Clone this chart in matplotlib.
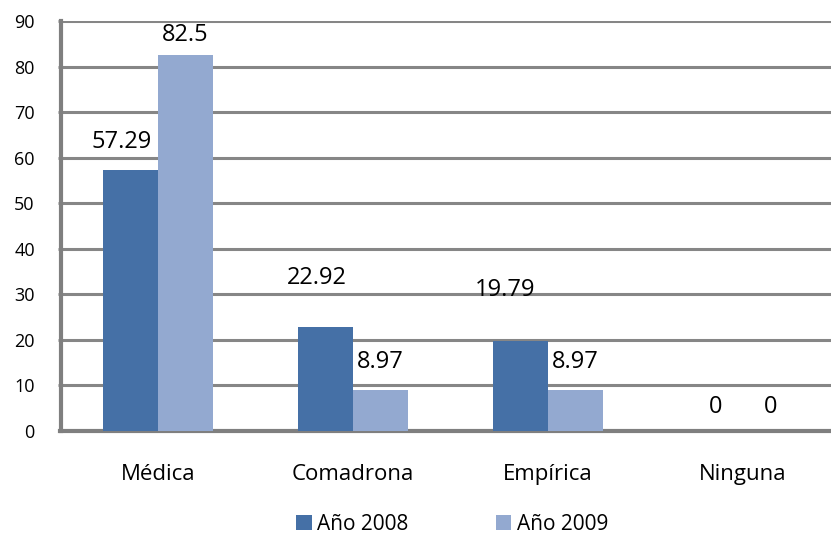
import matplotlib
matplotlib.use("Agg")
import matplotlib.pyplot as plt
import numpy as np

categories = ["Médica", "Comadrona", "Empírica", "Ninguna"]
series_names = ["Año 2008", "Año 2009"]
values_2008 = [57.29, 22.92, 19.79, 0]
values_2009 = [82.5, 8.97, 8.97, 0]
value_labels_2008 = ["57.29", "22.92", "19.79", "0"]
value_labels_2009 = ["82.5", "8.97", "8.97", "0"]
yticks = [0, 10, 20, 30, 40, 50, 60, 70, 80, 90]

colors = ["#4570A6", "#93A9D0"]
# label offsets in pixels (dx, dy) from the bar top centre
offsets_2008 = [(-9, 28), (-9, 49), (-15, 51), (0, 24)]
offsets_2009 = [(0, 20), (0, 28), (0, 28), (0, 24)]

plt.rcParams['font.family'] = ['Open Sans', 'DejaVu Sans']

fig = plt.figure(figsize=(8.31, 5.37), dpi=100)
W, H = 831, 537
left, right, top, bottom = 60.5, 840.5, 21, 431
ax = fig.add_axes([left / W, 1 - bottom / H, (right - left) / W, (bottom - top) / H])

x = np.arange(len(categories))
bw = 0.282
b1 = ax.bar(x - bw / 2, values_2008, bw, color=colors[0], label=series_names[0], zorder=3)
b2 = ax.bar(x + bw / 2, values_2009, bw, color=colors[1], label=series_names[1], zorder=3)

ax.set_xlim(-0.5, 3.5)
ax.set_ylim(0, 90)
ax.set_yticks(yticks)
ax.set_yticklabels([str(v) for v in yticks], fontsize=13)
ax.set_xticks(x)
ax.set_xticklabels(categories, fontsize=16)
ax.tick_params(axis='x', length=0, pad=24)
ax.tick_params(axis='y', length=2.5, width=2, color="#868686", pad=16)
ax.yaxis.grid(True, color="#868686", linewidth=2.2, zorder=1)
ax.set_axisbelow(True)
for s in ["top", "right"]:
    ax.spines[s].set_visible(False)
ax.spines["left"].set_color("#7f7f7f")
ax.spines["left"].set_linewidth(3)
ax.spines["bottom"].set_color("#7f7f7f")
ax.spines["bottom"].set_linewidth(3)

for bars, labs, offs in [(b1, value_labels_2008, offsets_2008), (b2, value_labels_2009, offsets_2009)]:
    for rect, lab, (dx, dy) in zip(bars, labs, offs):
        ax.annotate(lab, (rect.get_x() + rect.get_width() / 2, rect.get_height()),
                    xytext=(dx * 0.72, dy * 0.72), textcoords="offset points",
                    ha="center", va="center", fontsize=17, zorder=5)

leg = fig.legend(handles=[b1, b2], labels=series_names, loc="center",
                 bbox_to_anchor=(452 / W, 1 - 524 / H), ncol=2, frameon=False,
                 fontsize=15, handlelength=0.75, handleheight=0.75,
                 handletextpad=0.25, columnspacing=4.2)

fig.savefig("out.png", dpi=100)
